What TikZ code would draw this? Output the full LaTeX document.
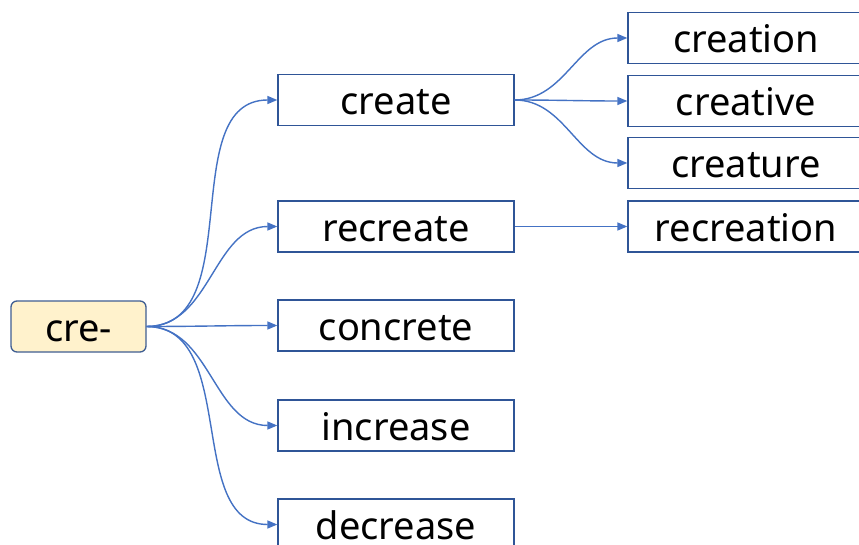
\documentclass[tikz,border=0pt]{standalone}
\usepackage{fontspec}
\setmainfont{Noto Sans}
\usetikzlibrary{arrows.meta}
\definecolor{lineblue}{HTML}{4472C4}
\definecolor{boxblue}{HTML}{2F5597}
\definecolor{rootfill}{HTML}{FFF2CC}
\begin{document}
\begin{tikzpicture}[x=1pt, y=-1pt,
	word/.style={draw=boxblue, line width=1.3pt, minimum width=236pt, minimum height=51pt,
		inner sep=0pt, text height=32pt, text depth=2pt, font=\fontsize{38}{42}\selectfont},
	root/.style={word, rounded corners=6pt, fill=rootfill, draw=boxblue!80!gray, minimum width=135pt},
	link/.style={draw=lineblue, line width=1.4pt, -{Triangle[length=10pt, width=8pt]}}]

	\clip (0,0) rectangle (859,545);
	\fill[white] (0,0) rectangle (859,545);

	\node[root] (cre) at (78.5,326.5) {cre-};

	\node[word] (create) at (396,100) {create};
	\node[word] (recreate) at (396,226.5) {recreate};
	\node[word] (concrete) at (396,325.5) {concrete};
	\node[word] (increase) at (396,425.5) {increase};
	\node[word] (decrease) at (396,524.5) {decrease};

	\node[word] (creation) at (746,38) {creation};
	\node[word] (creative) at (746,101) {creative};
	\node[word] (creature) at (746,163) {creature};
	\node[word] (recreation) at (746,226.5) {recreation};

	\draw[link] (cre.east) to[out=0, in=180] (create.west);
	\draw[link] (cre.east) to[out=0, in=180] (recreate.west);
	\draw[link] (cre.east) to[out=0, in=180] (concrete.west);
	\draw[link] (cre.east) to[out=0, in=180] (increase.west);
	\draw[link] (cre.east) to[out=0, in=180] (decrease.west);

	\draw[link] (create.east) to[out=0, in=180] (creation.west);
	\draw[link] (create.east) to[out=0, in=180] (creative.west);
	\draw[link] (create.east) to[out=0, in=180] (creature.west);
	\draw[link] (recreate.east) -- (recreation.west);
\end{tikzpicture}
\end{document}
